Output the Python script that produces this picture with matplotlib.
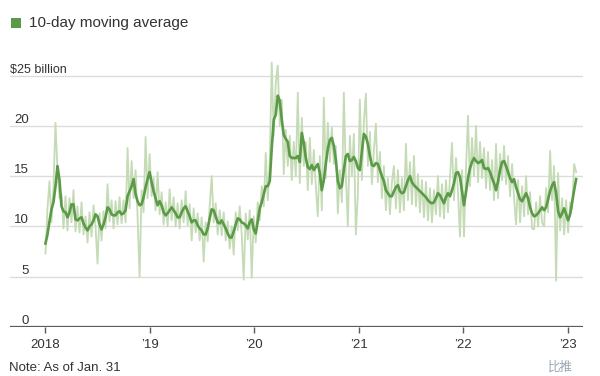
import pandas as pd
import matplotlib.pyplot as plt
from matplotlib.patches import Rectangle

# weekly readings, first week of Jan 2018 through Jan 31, 2023 ($ billion)
start_date = '2018-01-02'

daily = [
    # 2018
    7.3, 11.8, 14.5, 10.4, 14.0, 20.3, 15.6, 12.8, 13.2, 9.8,
    13.0, 9.6, 12.8, 10.4, 13.6, 9.5, 12.0, 9.4, 12.4, 9.2,
    11.0, 8.4, 11.4, 9.0, 12.1, 10.0, 6.3, 11.3, 8.6, 11.5,
    9.8, 14.2, 10.5, 12.6, 9.8, 12.5, 10.2, 12.9, 10.3, 12.6,
    10.4, 17.8, 11.8, 16.5, 12.8, 15.6, 11.0, 5.0, 13.6, 11.4,
    18.9, 12.8,
    # 2019
    17.2, 13.0, 14.8, 11.6, 15.4, 11.2, 13.4, 10.2, 12.4, 10.0,
    13.7, 10.6, 12.9, 10.0, 12.3, 9.8, 12.6, 10.4, 13.5, 10.1,
    12.2, 8.6, 11.8, 9.4, 11.3, 8.6, 10.9, 6.5, 10.4, 8.5,
    12.0, 15.0, 10.4, 12.3, 9.2, 11.6, 9.1, 11.4, 8.6, 10.5,
    7.8, 10.0, 7.2, 11.4, 9.6, 12.0, 9.2, 4.7, 11.3, 8.7,
    11.6, 4.9,
    # 2020
    11.0, 8.4, 12.4, 10.6, 14.0, 12.0, 17.3, 12.6, 16.4, 26.3,
    19.0, 24.3, 26.0, 20.0, 22.6, 15.2, 19.6, 16.0, 19.0, 14.6,
    18.4, 15.0, 23.3, 14.3, 20.8, 16.0, 18.4, 13.6, 18.8, 14.2,
    17.6, 14.0, 11.0, 17.0, 11.6, 22.8, 14.8, 20.3, 16.4, 19.8,
    16.2, 18.0, 11.3, 15.6, 12.4, 23.3, 15.2, 10.0, 19.0, 15.0,
    19.2, 9.2,
    # 2021
    13.2, 22.6, 14.6, 20.4, 23.2, 16.0, 19.4, 14.2, 17.6, 20.2,
    14.4, 17.4, 12.8, 16.0, 11.6, 14.8, 11.2, 14.4, 16.0, 11.8,
    15.6, 11.4, 14.8, 11.6, 18.2, 12.6, 16.4, 12.2, 17.0, 12.0,
    15.2, 11.4, 14.6, 10.9, 14.4, 10.6, 13.8, 10.4, 13.6, 11.2,
    15.0, 11.0, 14.2, 10.8, 14.6, 11.4, 14.8, 18.3, 12.6, 16.8,
    13.4, 9.0,
    # 2022
    15.6, 9.0, 15.8, 21.0, 14.0, 18.8, 15.0, 20.0, 14.4, 18.4,
    14.8, 17.8, 13.8, 17.4, 13.6, 16.6, 12.6, 18.2, 12.8, 17.2,
    14.6, 18.0, 14.2, 17.0, 13.0, 16.2, 12.8, 10.2, 14.6, 10.4,
    14.0, 11.0, 15.0, 11.2, 13.4, 9.8, 9.7, 12.4, 10.0, 13.0,
    10.4, 10.0, 13.8, 11.4, 17.5, 12.6, 16.0, 4.6, 15.3, 9.6,
    12.8, 9.2,
    # 2023
    12.6, 9.4, 12.4, 11.8, 16.2, 15.4,
]

moving_avg = [
    # 2018
    8.3, 9.2, 10.5, 11.7, 12.4, 14.0, 16.0, 14.6, 12.0, 11.5,
    11.4, 10.9, 11.4, 12.2, 12.2, 10.7, 10.6, 10.8, 10.9, 10.3,
    9.9, 9.6, 10.0, 10.2, 10.6, 11.2, 11.0, 10.2, 9.7, 10.2,
    10.9, 11.9, 11.7, 11.2, 11.1, 11.1, 11.4, 11.5, 11.2, 11.3,
    11.6, 13.0, 13.5, 14.0, 14.7, 13.2, 12.5, 12.1, 12.2, 12.9,
    13.9, 14.7,
    # 2019
    15.4, 14.4, 13.5, 12.8, 12.1, 12.5, 12.1, 11.4, 11.1, 11.3,
    11.6, 11.9, 11.6, 11.3, 10.9, 10.9, 11.4, 11.8, 12.0, 11.5,
    11.0, 10.4, 10.6, 10.6, 10.1, 9.8, 9.6, 9.2, 9.2, 9.8,
    10.8, 11.7, 11.6, 11.0, 10.4, 10.3, 10.6, 10.2, 9.8, 9.3,
    8.9, 8.9, 9.5, 10.2, 10.8, 10.7, 10.4, 10.3, 10.1, 9.8,
    10.4, 10.7,
    # 2020
    9.7, 9.3, 10.5, 11.8, 12.4, 13.2, 14.0, 14.0, 14.5, 17.8,
    20.6, 21.1, 23.0, 22.5, 20.6, 19.1, 18.7, 18.4, 17.0, 16.8,
    16.8, 16.8, 17.0, 16.4, 19.3, 18.3, 16.8, 15.9, 15.7, 16.1,
    15.6, 15.9, 16.2, 15.3, 13.6, 14.6, 16.3, 17.7, 18.6, 18.8,
    18.0, 16.6, 14.5, 13.8, 14.0, 15.6, 17.0, 17.2, 16.5, 16.6,
    16.9, 16.5,
    # 2021
    15.8, 15.6, 17.4, 19.2, 18.9, 18.2, 17.0, 16.1, 16.0, 16.3,
    16.2, 15.6, 15.0, 14.5, 13.6, 13.3, 13.0, 13.0, 13.5, 13.9,
    14.1, 13.5, 13.3, 13.4, 14.0, 14.6, 15.0, 14.4, 14.1, 13.9,
    13.7, 13.5, 13.3, 13.1, 12.9, 12.6, 12.4, 12.3, 12.4, 12.8,
    13.3, 13.1, 12.7, 12.3, 12.9, 13.3, 13.0, 13.6, 14.3, 15.3,
    15.4, 14.9,
    # 2022
    13.5, 12.1, 13.4, 14.8, 15.8, 16.4, 16.8, 16.5, 16.3, 16.4,
    16.6, 15.8, 15.7, 15.8, 15.4, 14.8, 14.3, 13.6, 14.5, 15.6,
    16.4, 16.5, 16.0, 15.4, 14.8, 14.4, 14.7, 13.9, 13.3, 12.7,
    12.5, 12.9, 13.3, 12.8, 11.9, 11.3, 11.0, 11.1, 11.3, 11.6,
    11.9, 11.6, 11.9, 12.7, 13.5, 14.1, 14.4, 13.3, 11.5, 10.9,
    11.3, 11.8,
    # 2023
    11.2, 10.6, 11.2, 12.4, 13.6, 14.7,
]

y_ticks = [0, 5, 10, 15, 20, 25]
y_labels = ['0', '5', '10', '15', '20', '$25 billion']
x_years = ['2018', '2019', '2020', '2021', '2022', '2023']
x_labels = ['2018', '\u201919', '\u201920', '\u201921', '\u201922', '\u201923']

dates = pd.date_range(start_date, periods=len(daily), freq='7D')

plt.rcParams['font.family'] = ['Liberation Sans', 'DejaVu Sans']

light = '#c4dbb5'
dark = '#5b9a47'
txt = '#333333'

fig = plt.figure(figsize=(6, 3.76), dpi=100)
ax = fig.add_axes([10 / 600, 49 / 376, 573 / 600, 271.6 / 376])

ax.plot(dates, daily, color=light, lw=1.3, zorder=2)
ax.plot(dates, moving_avg, color=dark, lw=1.9, zorder=3)

ax.set_xlim(pd.Timestamp('2017-08-31'), pd.Timestamp('2023-02-24'))
ax.set_ylim(0, 27)

for v in y_ticks[1:]:
    ax.axhline(v, color='#dcdcdc', lw=1.0, zorder=1)
ax.axhline(0, color='#5a5a5a', lw=1.6, zorder=4)

for v, lab in zip(y_ticks, y_labels):
    if v == 25:
        ax.text(0.0, v + 0.3, lab, transform=ax.get_yaxis_transform(),
                ha='left', va='baseline', fontsize=9, color=txt)
    else:
        ax.text(0.033, v + 0.3, lab, transform=ax.get_yaxis_transform(),
                ha='right', va='baseline', fontsize=9.5, color=txt)

ax.set_yticks([])
ax.set_xticks([pd.Timestamp(y + '-01-01') for y in x_years])
ax.set_xticklabels(x_labels, fontsize=9.5, color=txt)
ax.tick_params(axis='x', length=4, width=1, color='#5a5a5a', pad=5)
for s in ax.spines.values():
    s.set_visible(False)

# legend
fig.add_artist(Rectangle((11 / 600, 1 - 28 / 376), 10 / 600, 10 / 376,
                         transform=fig.transFigure, color=dark, lw=0))
fig.text(29 / 600, 1 - 23 / 376, '10-day moving average', fontsize=11,
         color=txt, va='center', ha='left')

fig.text(9 / 600, 1 - 362 / 376, 'Note: As of Jan. 31', fontsize=9.5,
         color=txt, va='top', ha='left')
fig.text(548 / 600, 1 - 361 / 376, '比推', fontsize=9, color='#9aa6b2',
         va='top', ha='left', family=['Noto Sans CJK SC', 'DejaVu Sans'])

fig.savefig('out.png', dpi=100)
